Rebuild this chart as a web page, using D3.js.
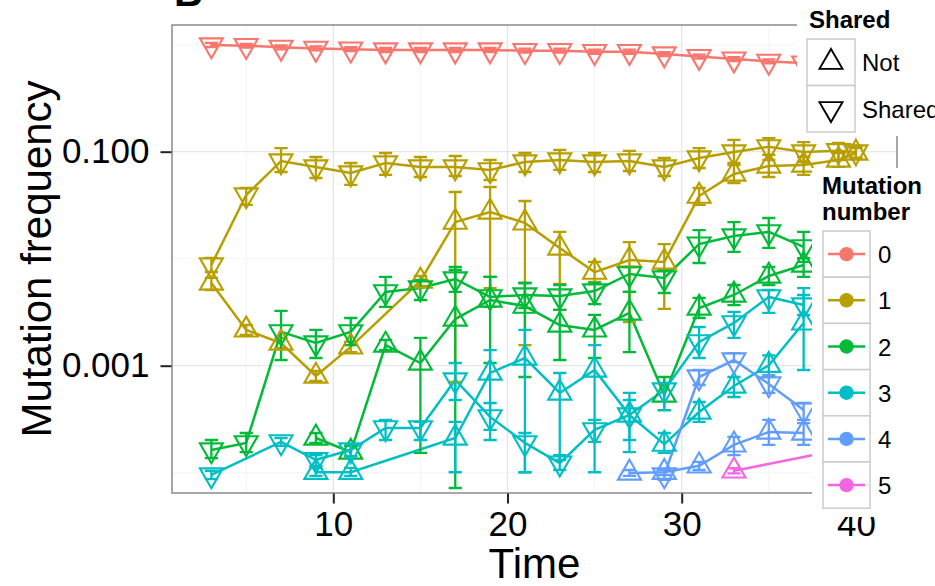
<!DOCTYPE html>
<html>
<head>
<meta charset="utf-8">
<script src="https://d3js.org/d3.v7.min.js"></script>
<style>
  body { margin: 0; background: #fff; }
  svg { display: block; font-family: "Liberation Sans", Arial, sans-serif; }
</style>
</head>
<body>
<script>
// each row: [time, frequency, lower, upper]
var mut0Shared = [
  [3, 0.994, 0.952, 1.04], [5, 0.979, 0.937, 1.02], [7, 0.945, 0.905, 0.987],
  [9, 0.923, 0.884, 0.964], [11, 0.909, 0.870, 0.949], [13, 0.892, 0.854, 0.931],
  [15, 0.892, 0.854, 0.931], [17, 0.892, 0.854, 0.931], [19, 0.892, 0.854, 0.931],
  [21, 0.879, 0.842, 0.918], [23, 0.879, 0.842, 0.918], [25, 0.860, 0.823, 0.898],
  [27, 0.860, 0.823, 0.898], [29, 0.818, 0.783, 0.854], [31, 0.774, 0.741, 0.808],
  [33, 0.734, 0.703, 0.766], [35, 0.698, 0.668, 0.729], [37, 0.673, 0.644, 0.703],
  [39, 0.660, 0.632, 0.689]
];
var mut1Shared = [
  [3, 0.00873, 0.00751, 0.0102], [5, 0.0394, 0.0318, 0.0458], [7, 0.0818, 0.0646, 0.108],
  [9, 0.0719, 0.0568, 0.0892], [11, 0.0632, 0.0489, 0.0784], [13, 0.0784, 0.0606, 0.0972],
  [15, 0.0719, 0.058, 0.0892], [17, 0.0719, 0.0593, 0.0912], [19, 0.0675, 0.0544, 0.0836],
  [21, 0.0801, 0.0646, 0.0972], [23, 0.0836, 0.0675, 0.104], [25, 0.0801, 0.0646, 0.0972],
  [27, 0.0818, 0.066, 0.102], [29, 0.0719, 0.0593, 0.0873], [31, 0.0873, 0.0704, 0.108],
  [33, 0.0994, 0.0784, 0.129], [35, 0.111, 0.0836, 0.134], [37, 0.0994, 0.0801, 0.123],
  [39, 0.102, 0.0836, 0.121], [40, 0.0994, 0.0873, 0.113]
];
var mut1Not = [
  [3, 0.00593, 0.0051, 0.00661], [5, 0.00216, 0.00194, 0.0024], [7, 0.00163, 0.00146, 0.00182],
  [9, 0.000801, 0.00072, 0.000892], [11, 0.0015, 0.00134, 0.00167], [15, 0.00619, 0.00556, 0.00689],
  [17, 0.022, 0.000705, 0.042], [19, 0.0273, 0.00532, 0.0468], [21, 0.0216, 0.00156, 0.0346],
  [23, 0.0126, 0.0058, 0.0178], [25, 0.0075, 0.00606, 0.00932], [27, 0.00973, 0.00256, 0.0143],
  [29, 0.00932, 0.00339, 0.0137], [31, 0.0385, 0.0318, 0.0458], [33, 0.0619, 0.051, 0.0751],
  [35, 0.0735, 0.058, 0.0932], [37, 0.0751, 0.0606, 0.0892], [39, 0.0836, 0.0719, 0.0972],
  [40, 0.0972, 0.0873, 0.108]
];
var mut2Shared = [
  [3, 0.000163, 0.000137, 0.000202], [5, 0.00019, 0.000156, 0.000235], [7, 0.00207, 0.00113, 0.00325],
  [9, 0.00163, 0.00118, 0.00216], [11, 0.00207, 0.00156, 0.00279], [13, 0.00489, 0.00354, 0.00675],
  [15, 0.00532, 0.00411, 0.00632], [17, 0.00646, 0.00489, 0.00836], [19, 0.00439, 0.00354, 0.00675],
  [21, 0.00458, 0.00346, 0.00593], [23, 0.00448, 0.00332, 0.00568], [25, 0.00499, 0.00377, 0.00593],
  [27, 0.0072, 0.00489, 0.00836], [29, 0.0066, 0.00478, 0.00784], [31, 0.0137, 0.00912, 0.0185],
  [33, 0.0163, 0.0116, 0.022], [35, 0.0178, 0.0126, 0.024], [37, 0.0129, 0.00932, 0.0178]
];
var mut2Not = [
  [9, 0.000211, 0.00019, 0.000235], [11, 0.000156, 0.000143, 0.000178], [13, 0.00156, 0.0014, 0.00174],
  [15, 0.00106, 0.000153, 0.00182], [17, 0.00273, 0.0000719, 0.00784], [19, 0.00411, 0.00106, 0.00675],
  [21, 0.00361, 0.000784, 0.00593], [23, 0.0024, 0.00113, 0.00332], [25, 0.00216, 0.00118, 0.00298],
  [27, 0.00311, 0.00134, 0.00489], [29, 0.000532, 0.000385, 0.000784], [31, 0.00346, 0.00279, 0.0043],
  [33, 0.00458, 0.00369, 0.00568], [35, 0.00689, 0.00568, 0.00836], [37, 0.00873, 0.00675, 0.0101]
];
var mut3Shared = [
  [3, 0.0000952, 0.0000872, 0.000104], [7, 0.000194, 0.000178, 0.000211], [9, 0.000132, 0.000116, 0.000146],
  [11, 0.000163, 0.000143, 0.000182], [13, 0.000262, 0.000202, 0.000311], [15, 0.000262, 0.000202, 0.000298],
  [17, 0.000735, 0.000478, 0.00106], [19, 0.000332, 0.000202, 0.000448], [21, 0.00019, 0.000101, 0.000235],
  [23, 0.000123, 0.000106, 0.000146], [25, 0.000251, 0.000194, 0.000311], [27, 0.000346, 0.000156, 0.000556],
  [29, 0.000593, 0.000385, 0.000689], [31, 0.00167, 0.00118, 0.0023], [33, 0.00251, 0.00182, 0.00318],
  [35, 0.00439, 0.00311, 0.0051], [37, 0.00369, 0.00298, 0.00458]
];
var mut3Not = [
  [9, 0.000101, 0.0000932, 0.000111], [11, 0.000101, 0.0000932, 0.000111], [17, 0.000211, 0.000101, 0.000298],
  [19, 0.000855, 0.000251, 0.0014], [21, 0.00118, 0.000101, 0.00216], [23, 0.000556, 0.000132, 0.000855],
  [25, 0.000912, 0.000101, 0.00156], [27, 0.000346, 0.000202, 0.000478], [29, 0.000185, 0.000153, 0.000235],
  [31, 0.000369, 0.000298, 0.000458], [33, 0.000646, 0.00051, 0.000784], [35, 0.00101, 0.000784, 0.00125],
  [37, 0.00251, 0.000912, 0.00532]
];
var mut4Shared = [
  [29, 0.0000952, 0.0000855, 0.000106], [31, 0.000784, 0.00066, 0.000912], [33, 0.00113, 0.00108, 0.00131],
  [35, 0.000675, 0.000556, 0.000818], [37, 0.000385, 0.000311, 0.000448]
];
var mut4Not = [
  [27, 0.0000994, 0.0000935, 0.000106], [29, 0.000101, 0.0000952, 0.000108], [31, 0.000116, 0.000106, 0.000126],
  [33, 0.000182, 0.000146, 0.000216], [35, 0.00024, 0.000182, 0.000311], [37, 0.000235, 0.000182, 0.000291]
];
var mut5Not = [
  [33, 0.000104, 0.0000985, 0.00011], [39, 0.000163, 0.00015, 0.000177]
];

var mutationNumbers = ["0", "1", "2", "3", "4", "5"];
var mutationColors = ["#F8766D", "#B79F00", "#00BA38", "#00BFC4", "#619CFF", "#F564E3"];
var sharedLevels = ["Not", "Shared"];
var xBreaks = [10, 20, 30, 40];
var xMinor = [5, 15, 25, 35];
var yBreaks = [0.001, 0.1];
var yMinor = [0.0001, 0.01, 1];

var series = [
  {num: 0, shared: true, data: mut0Shared},
  {num: 1, shared: true, data: mut1Shared},
  {num: 1, shared: false, data: mut1Not},
  {num: 2, shared: true, data: mut2Shared},
  {num: 2, shared: false, data: mut2Not},
  {num: 3, shared: true, data: mut3Shared},
  {num: 3, shared: false, data: mut3Not},
  {num: 4, shared: true, data: mut4Shared},
  {num: 4, shared: false, data: mut4Not},
  {num: 5, shared: false, data: mut5Not}
];

var width = 935, height = 586;
var panel = {left: 172, right: 897, top: 25, bottom: 493};

var x = d3.scaleLinear().domain([0.74, 42.36]).range([panel.left, panel.right]);
var y = d3.scaleLog().domain([6.46e-5, 1.528]).range([panel.bottom, panel.top]);

var svg = d3.select("body").append("svg")
    .attr("width", width)
    .attr("height", height);

svg.append("defs").append("clipPath").attr("id", "clip")
  .append("rect")
    .attr("x", panel.left).attr("y", panel.top)
    .attr("width", panel.right - panel.left)
    .attr("height", panel.bottom - panel.top);

// panel label (mostly cut off above)
svg.append("text")
    .attr("x", 174).attr("y", 6)
    .style("font-size", "40px").style("font-weight", "bold")
    .text("B");

// grid
var grid = svg.append("g");
grid.selectAll(".xminor").data(xMinor).enter().append("line")
    .attr("x1", x).attr("x2", x).attr("y1", panel.top).attr("y2", panel.bottom)
    .attr("stroke", "#f4f4f4").attr("stroke-width", 1);
grid.selectAll(".yminor").data(yMinor).enter().append("line")
    .attr("x1", panel.left).attr("x2", panel.right).attr("y1", y).attr("y2", y)
    .attr("stroke", "#f4f4f4").attr("stroke-width", 1);
grid.selectAll(".xmajor").data(xBreaks).enter().append("line")
    .attr("x1", x).attr("x2", x).attr("y1", panel.top).attr("y2", panel.bottom)
    .attr("stroke", "#e6e6e6").attr("stroke-width", 1.3);
grid.selectAll(".ymajor").data(yBreaks).enter().append("line")
    .attr("x1", panel.left).attr("x2", panel.right).attr("y1", y).attr("y2", y)
    .attr("stroke", "#e6e6e6").attr("stroke-width", 1.3);

// marks
var plot = svg.append("g").attr("clip-path", "url(#clip)");

var line = d3.line()
    .x(function (d) { return x(d[0]); })
    .y(function (d) { return y(d[1]); });

plot.selectAll(".series").data(series).enter().append("path")
    .attr("d", function (s) { return line(s.data); })
    .attr("fill", "none")
    .attr("stroke", function (s) { return mutationColors[s.num]; })
    .attr("stroke-width", 2.5);

var capHalf = 6.6;
series.forEach(function (s) {
  var g = plot.append("g")
      .attr("stroke", mutationColors[s.num])
      .attr("stroke-width", 2.3)
      .attr("fill", "none");
  g.selectAll("path").data(s.data).enter().append("path")
      .attr("d", function (d) {
        var cx = x(d[0]), lo = y(d[2]), hi = y(d[3]);
        return "M" + (cx - capHalf) + "," + hi + "H" + (cx + capHalf) +
               "M" + cx + "," + hi + "V" + lo +
               "M" + (cx - capHalf) + "," + lo + "H" + (cx + capHalf);
      });
});

function triangle(side, down) {
  var r = side / Math.sqrt(3), b = r / 2, h = side / 2;
  if (down) return "M0," + r + "L" + h + "," + (-b) + "L" + (-h) + "," + (-b) + "Z";
  return "M0," + (-r) + "L" + h + "," + b + "L" + (-h) + "," + b + "Z";
}

series.forEach(function (s) {
  plot.append("g").selectAll("path").data(s.data).enter().append("path")
      .attr("transform", function (d) { return "translate(" + x(d[0]) + "," + y(d[1]) + ")"; })
      .attr("d", triangle(23, s.shared))
      .attr("fill", "none")
      .attr("stroke", mutationColors[s.num])
      .attr("stroke-width", 2.1);
});

// panel border
svg.append("rect")
    .attr("x", panel.left).attr("y", panel.top)
    .attr("width", panel.right - panel.left)
    .attr("height", panel.bottom - panel.top)
    .attr("fill", "none").attr("stroke", "#8a8a8a").attr("stroke-width", 1.5);

// axes
var yAxis = d3.axisLeft(y).tickValues(yBreaks).tickFormat(d3.format(".3f"))
    .tickSize(11).tickPadding(11);
var yg = svg.append("g").attr("transform", "translate(" + (panel.left - 0.5) + ",0)").call(yAxis);
yg.select(".domain").remove();
yg.selectAll("line").attr("stroke", "#222").attr("stroke-width", 2);
yg.selectAll("text").style("font-size", "35px").attr("fill", "#000")
    .style("font-family", "'Liberation Sans', Arial, sans-serif");

var xAxis = d3.axisBottom(x).tickValues(xBreaks).tickFormat(d3.format("d"))
    .tickSize(10).tickPadding(8);
var xg = svg.append("g").attr("transform", "translate(0," + (panel.bottom + 0.5) + ")").call(xAxis);
xg.select(".domain").remove();
xg.selectAll("line").attr("stroke", "#222").attr("stroke-width", 2);
xg.selectAll("text").style("font-size", "35px").attr("fill", "#000")
    .style("font-family", "'Liberation Sans', Arial, sans-serif");

svg.append("text")
    .attr("x", (panel.left + panel.right) / 2).attr("y", 578)
    .attr("text-anchor", "middle")
    .style("font-size", "42px")
    .text("Time");

svg.append("text")
    .attr("transform", "translate(51," + ((panel.top + panel.bottom) / 2) + ") rotate(-90)")
    .attr("text-anchor", "middle")
    .style("font-size", "42px")
    .text("Mutation frequency");

// legends, drawn over the right of the panel
svg.append("rect").attr("x", 797).attr("y", 0).attr("width", 140).attr("height", 136).attr("fill", "#fff");
svg.append("rect").attr("x", 812).attr("y", 168).attr("width", 125).attr("height", 349).attr("fill", "#fff");

svg.append("text").attr("x", 809).attr("y", 28)
    .style("font-size", "24px").style("font-weight", "bold").text("Shared");

var keyH = 46.5;
sharedLevels.forEach(function (lvl, i) {
  var top = 39 + i * keyH;
  svg.append("rect").attr("x", 807).attr("y", top).attr("width", 48).attr("height", keyH)
      .attr("fill", "#fff").attr("stroke", "#cccccc").attr("stroke-width", 1.5);
  svg.append("path")
      .attr("transform", "translate(831," + (top + keyH / 2) + ")")
      .attr("d", triangle(23, lvl === "Shared"))
      .attr("fill", "none").attr("stroke", "#000").attr("stroke-width", 1.9);
  svg.append("text").attr("x", 862).attr("y", top + keyH / 2 + 9)
      .style("font-size", "24px").text(lvl);
});

svg.append("text").attr("x", 822).attr("y", 194)
    .style("font-size", "24px").style("font-weight", "bold").text("Mutation");
svg.append("text").attr("x", 822).attr("y", 220)
    .style("font-size", "24px").style("font-weight", "bold").text("number");

var rowH = 46.2;
mutationNumbers.forEach(function (m, i) {
  var top = 231 + i * rowH, cy = top + rowH / 2;
  svg.append("rect").attr("x", 823).attr("y", top).attr("width", 47).attr("height", rowH)
      .attr("fill", "#fff").attr("stroke", "#cccccc").attr("stroke-width", 1.5);
  svg.append("line").attr("x1", 828).attr("x2", 865).attr("y1", cy).attr("y2", cy)
      .attr("stroke", mutationColors[i]).attr("stroke-width", 2.5);
  svg.append("circle").attr("cx", 846.5).attr("cy", cy).attr("r", 7.2)
      .attr("fill", mutationColors[i]);
  svg.append("text").attr("x", 878).attr("y", cy + 9)
      .style("font-size", "24px").text(m);
});
</script>
</body>
</html>
